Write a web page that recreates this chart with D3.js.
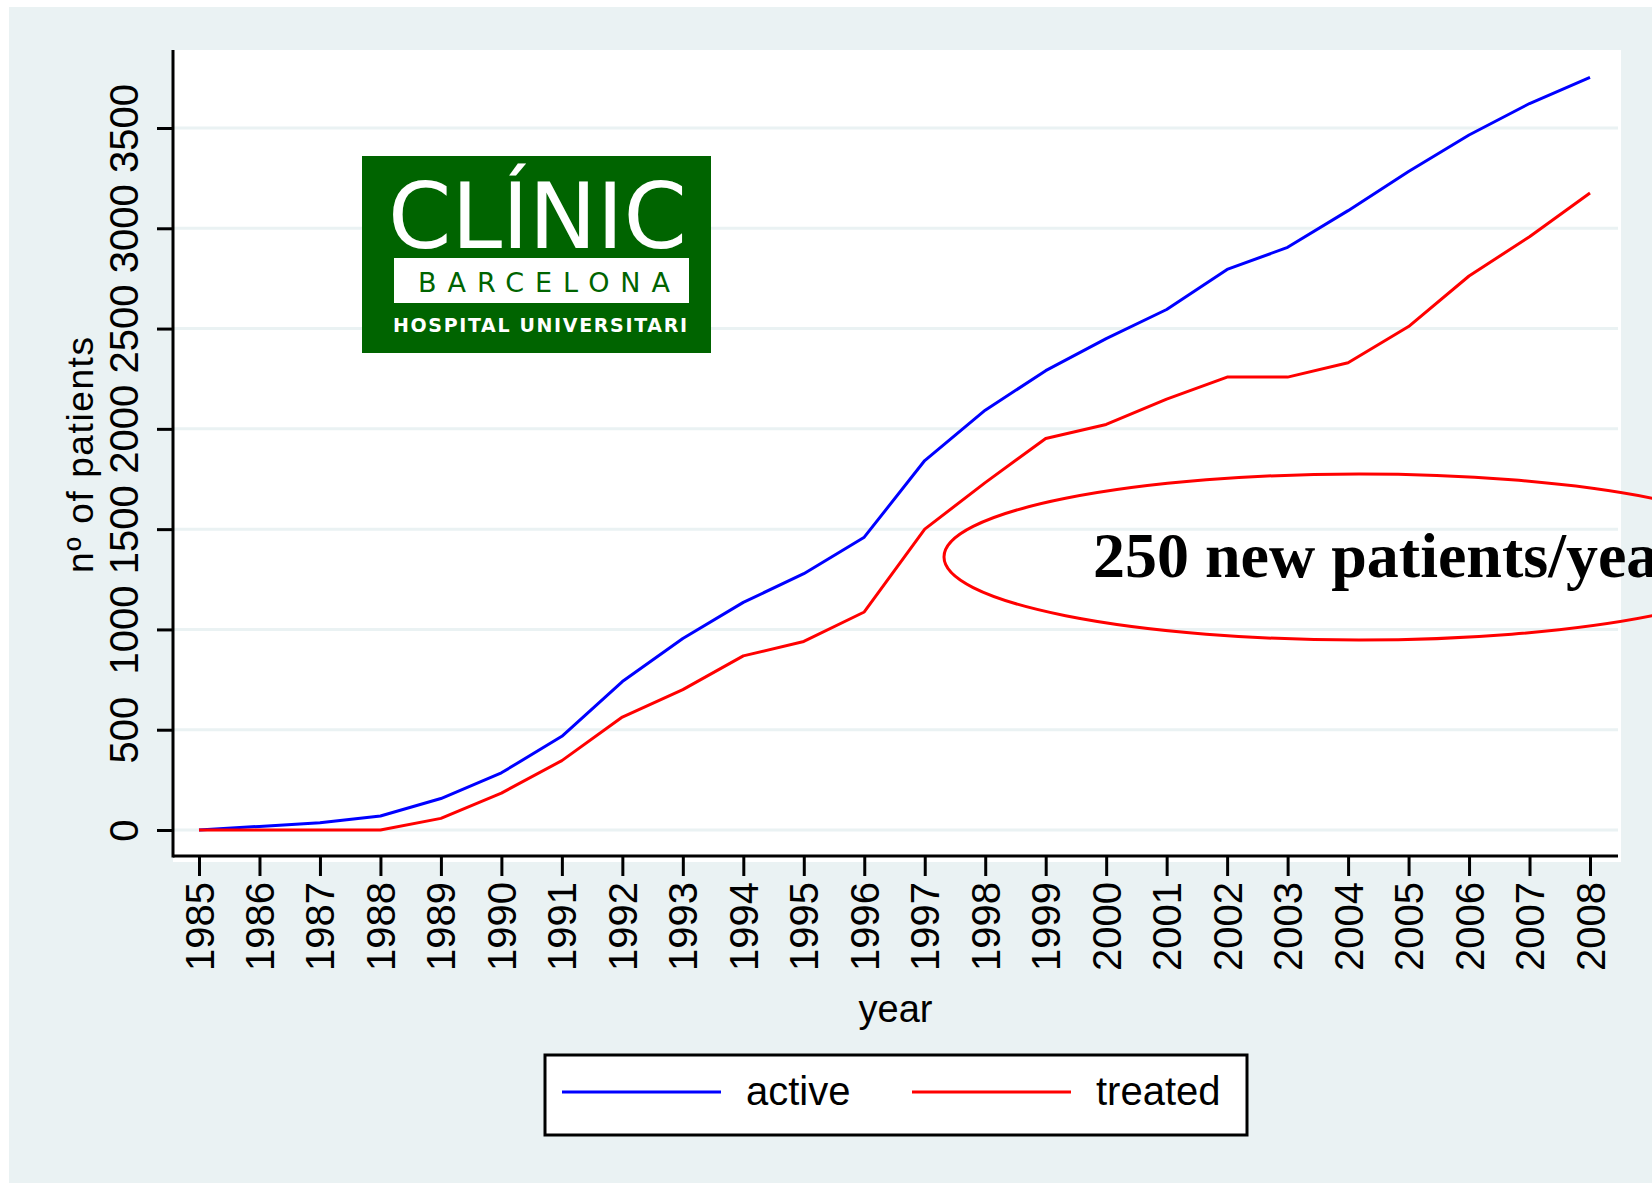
<!DOCTYPE html>
<html>
<head>
<meta charset="utf-8">
<title>nº of patients</title>
<script src="https://cdn.jsdelivr.net/npm/d3@7"></script>
<style>
  html, body { margin: 0; padding: 0; background: #ffffff; }
  svg { display: block; }
</style>
</head>
<body>
<div id="div_template"></div>
<script>
const years = [1985, 1986, 1987, 1988, 1989, 1990, 1991, 1992, 1993, 1994, 1995, 1996,
  1997, 1998, 1999, 2000, 2001, 2002, 2003, 2004, 2005, 2006, 2007, 2008];
const active = [0, 18, 36, 70, 157, 285, 467, 740, 955, 1135, 1278, 1460,
  1842, 2093, 2290, 2450, 2595, 2795, 2905, 3088, 3283, 3465, 3622, 3753];
const treated = [0, 0, 0, 0, 58, 184, 346, 563, 700, 868, 940, 1087,
  1500, 1732, 1952, 2022, 2148, 2258, 2258, 2330, 2510, 2762, 2958, 3176];
const yTicks = [0, 500, 1000, 1500, 2000, 2500, 3000, 3500];
const seriesNames = ["active", "treated"];
const seriesColors = ["#0000ff", "#ff0000"];
const note = "250 new patients/year";

const W = 1652, H = 1183;
const bg = "#eaf2f3";
// plot region in page pixels
const plotLeft = 173, plotRight = 1618, plotTop = 50, plotBottom = 856;

const svg = d3.select("#div_template")
  .append("svg")
  .attr("width", W)
  .attr("height", H);

svg.append("rect")
  .attr("x", 9).attr("y", 7)
  .attr("width", W - 9).attr("height", H - 7)
  .attr("fill", bg);

svg.append("rect")
  .attr("x", plotLeft).attr("y", plotTop)
  .attr("width", 1621 - plotLeft).attr("height", 862 - plotTop)
  .attr("fill", "#ffffff");

const x = d3.scaleLinear()
  .domain([1985, 2008])
  .range([199, 1590]);

const y = d3.scaleLinear()
  .domain([0, 3500])
  .range([830, 128]);

// gridlines
svg.append("g")
  .selectAll("line")
  .data(yTicks)
  .join("line")
  .attr("x1", plotLeft + 1).attr("x2", plotRight)
  .attr("y1", d => y(d)).attr("y2", d => y(d))
  .attr("stroke", bg)
  .attr("stroke-width", 3);

// y axis
const yAxis = svg.append("g")
  .attr("transform", "translate(" + plotLeft + ",0)")
  .call(d3.axisLeft(y).tickValues(yTicks).tickSize(16).tickPadding(0).tickFormat(d3.format("d")));
yAxis.select(".domain").remove();
yAxis.selectAll(".tick line").attr("stroke", "#000").attr("stroke-width", 3);
yAxis.selectAll(".tick text")
  .attr("x", null).attr("dy", null)
  .attr("transform", "translate(-35,0) rotate(-90)")
  .attr("text-anchor", "middle")
  .style("font-family", "'Liberation Sans', Arial, sans-serif")
  .style("font-size", "40px")
  .attr("fill", "#000");

// x axis
const xAxis = svg.append("g")
  .attr("transform", "translate(0," + plotBottom + ")")
  .call(d3.axisBottom(x).tickValues(years).tickSize(20).tickPadding(0).tickFormat(d3.format("d")));
xAxis.select(".domain").remove();
xAxis.selectAll(".tick line").attr("stroke", "#000").attr("stroke-width", 3);
xAxis.selectAll(".tick text")
  .attr("y", null).attr("dy", null)
  .attr("transform", "translate(14,26) rotate(-90)")
  .attr("text-anchor", "end")
  .style("font-family", "'Liberation Sans', Arial, sans-serif")
  .style("font-size", "40px")
  .attr("fill", "#000");

// axis lines
svg.append("line")
  .attr("x1", plotLeft).attr("x2", plotLeft)
  .attr("y1", plotTop).attr("y2", plotBottom + 1.5)
  .attr("stroke", "#000").attr("stroke-width", 3);
svg.append("line")
  .attr("x1", plotLeft).attr("x2", plotRight)
  .attr("y1", plotBottom).attr("y2", plotBottom)
  .attr("stroke", "#000").attr("stroke-width", 3);

// series lines
const line = d3.line()
  .x((d, i) => x(years[i]))
  .y(d => y(d));

[active, treated].forEach(function (s, k) {
  svg.append("path")
    .datum(s)
    .attr("d", line)
    .attr("fill", "none")
    .attr("stroke", seriesColors[k])
    .attr("stroke-width", 3)
    .attr("stroke-linejoin", "round");
});

// axis titles
svg.append("text")
  .attr("transform", "translate(93,455) rotate(-90)")
  .attr("text-anchor", "middle")
  .attr("textLength", 236)
  .attr("lengthAdjust", "spacing")
  .style("font-family", "'Liberation Sans', Arial, sans-serif")
  .style("font-size", "37px")
  .text("nº of patients");

svg.append("text")
  .attr("x", (plotLeft + plotRight) / 2).attr("y", 1022)
  .attr("text-anchor", "middle")
  .style("font-family", "'Liberation Sans', Arial, sans-serif")
  .style("font-size", "38px")
  .text("year");

// logo
const logo = svg.append("g");
logo.append("rect")
  .attr("x", 362).attr("y", 156)
  .attr("width", 349).attr("height", 197)
  .attr("fill", "#006400");
logo.append("text")
  .attr("x", 388).attr("y", 248)
  .attr("textLength", 299)
  .attr("lengthAdjust", "spacingAndGlyphs")
  .attr("fill", "#ffffff")
  .style("font-family", "'DejaVu Sans', sans-serif")
  .style("font-size", "90px")
  .text("CLÍNIC");
logo.append("rect")
  .attr("x", 394).attr("y", 258)
  .attr("width", 295).attr("height", 45)
  .attr("fill", "#ffffff");
logo.append("text")
  .attr("x", 418).attr("y", 292)
  .attr("textLength", 252)
  .attr("lengthAdjust", "spacing")
  .attr("fill", "#006400")
  .style("font-family", "'DejaVu Sans', sans-serif")
  .style("font-size", "27px")
  .text("BARCELONA");
logo.append("text")
  .attr("x", 393).attr("y", 332)
  .attr("textLength", 294)
  .attr("lengthAdjust", "spacing")
  .attr("fill", "#ffffff")
  .style("font-family", "'DejaVu Sans', sans-serif")
  .style("font-weight", "bold")
  .style("font-size", "19px")
  .text("HOSPITAL UNIVERSITARI");

// annotation
svg.append("ellipse")
  .attr("cx", 1359).attr("cy", 557)
  .attr("rx", 415).attr("ry", 83)
  .attr("fill", "none")
  .attr("stroke", "#ff0000")
  .attr("stroke-width", 3);
svg.append("text")
  .attr("x", 1093).attr("y", 577)
  .style("font-family", "'Liberation Serif', 'Times New Roman', serif")
  .style("font-weight", "bold")
  .style("font-size", "64px")
  .text(note);

// legend
const legend = svg.append("g");
legend.append("rect")
  .attr("x", 545).attr("y", 1055)
  .attr("width", 702).attr("height", 80)
  .attr("fill", "#ffffff")
  .attr("stroke", "#000")
  .attr("stroke-width", 3);
const legX = [562, 912];
seriesNames.forEach(function (name, k) {
  legend.append("line")
    .attr("x1", legX[k]).attr("x2", legX[k] + 159)
    .attr("y1", 1092).attr("y2", 1092)
    .attr("stroke", seriesColors[k])
    .attr("stroke-width", 3);
  legend.append("text")
    .attr("x", legX[k] + 184).attr("y", 1105)
    .style("font-family", "'Liberation Sans', Arial, sans-serif")
    .style("font-size", "40px")
    .text(name);
});
</script>
</body>
</html>
